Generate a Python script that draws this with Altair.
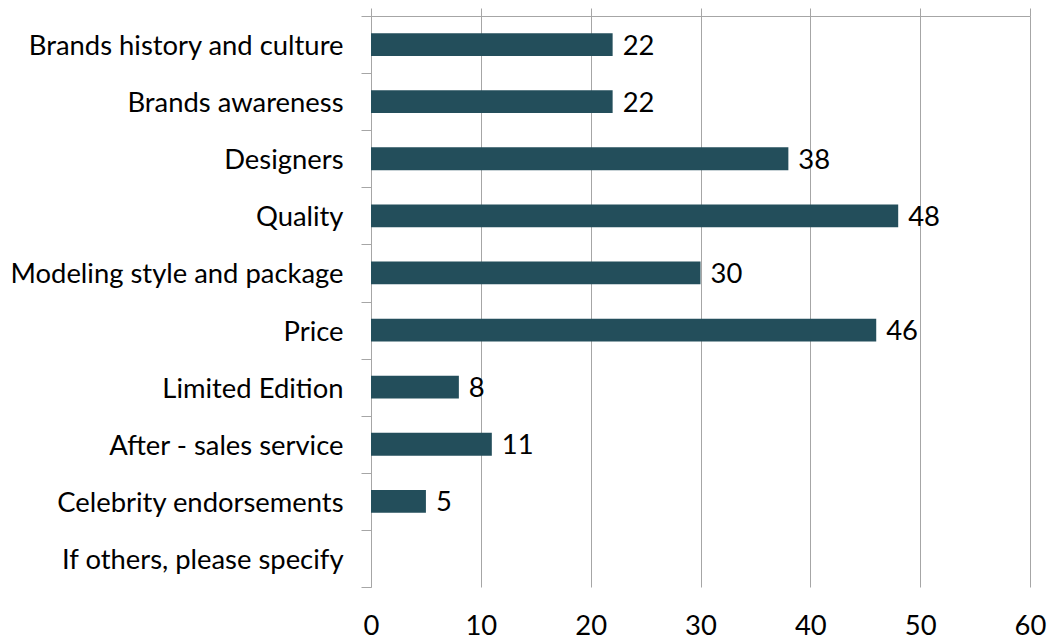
import altair as alt
import pandas as pd

categories = [
    "Brands history and culture",
    "Brands awareness",
    "Designers",
    "Quality",
    "Modeling style and package",
    "Price",
    "Limited Edition",
    "After - sales service",
    "Celebrity endorsements",
    "If others, please specify",
]
values = [22, 22, 38, 48, 30, 46, 8, 11, 5, None]
x_ticks = [0, 10, 20, 30, 40, 50, 60]

df = pd.DataFrame({"category": categories, "value": values})

FONT = "Lato"
FS = 27.4
GRAY = "#A6A6A6"
BAR = "#234E5B"

x_top = alt.X(
    "value:Q",
    scale=alt.Scale(domain=[0, 60], nice=False),
    axis=alt.Axis(
        orient="top", labels=False, grid=False, domain=True, domainColor=GRAY,
        ticks=True, tickColor=GRAY, tickSize=8, values=x_ticks, title=None,
    ),
)
x_bottom = alt.X(
    "value:Q",
    scale=alt.Scale(domain=[0, 60], nice=False),
    axis=alt.Axis(
        orient="bottom", labels=True, grid=True, gridColor=GRAY, domain=False,
        ticks=False, values=x_ticks, title=None, labelFont=FONT, labelFontSize=FS,
        labelColor="black", labelPadding=25, labelFlush=False,
    ),
)
y_enc = alt.Y(
    "category:N",
    sort=categories,
    scale=alt.Scale(paddingInner=0, paddingOuter=0),
    axis=alt.Axis(
        title=None, domainColor=GRAY, tickColor=GRAY, tickSize=10, tickBand="extent",
        labelFont=FONT, labelFontSize=FS, labelColor="black", labelPadding=18,
        labelLimit=400, labelOffset=2,
    ),
)

bars = alt.Chart(df).mark_bar(color=BAR, height={"band": 0.4}).encode(x=x_bottom, y=y_enc)
top_axis = alt.Chart(df).mark_bar(opacity=0, height={"band": 0.4}).encode(x=x_top, y=y_enc)
labels = (
    alt.Chart(df)
    .transform_filter("datum.value != null")
    .mark_text(align="left", baseline="middle", dx=10, dy=2, font=FONT, fontSize=FS, color="black")
    .encode(
        x=alt.X("value:Q", axis=None),
        y=y_enc,
        text="value:Q",
    )
)

chart = (
    alt.layer(bars, top_axis, labels)
    .resolve_axis(x="independent")
    .properties(
        width=659,
        height=571,
        autosize=alt.AutoSizeParams(type="none"),
        padding={"left": 371, "top": 16, "right": 23, "bottom": 52},
    )
    .configure_view(stroke=None)
)

chart.save("out.html", embed_options={"renderer": "svg", "actions": False})
